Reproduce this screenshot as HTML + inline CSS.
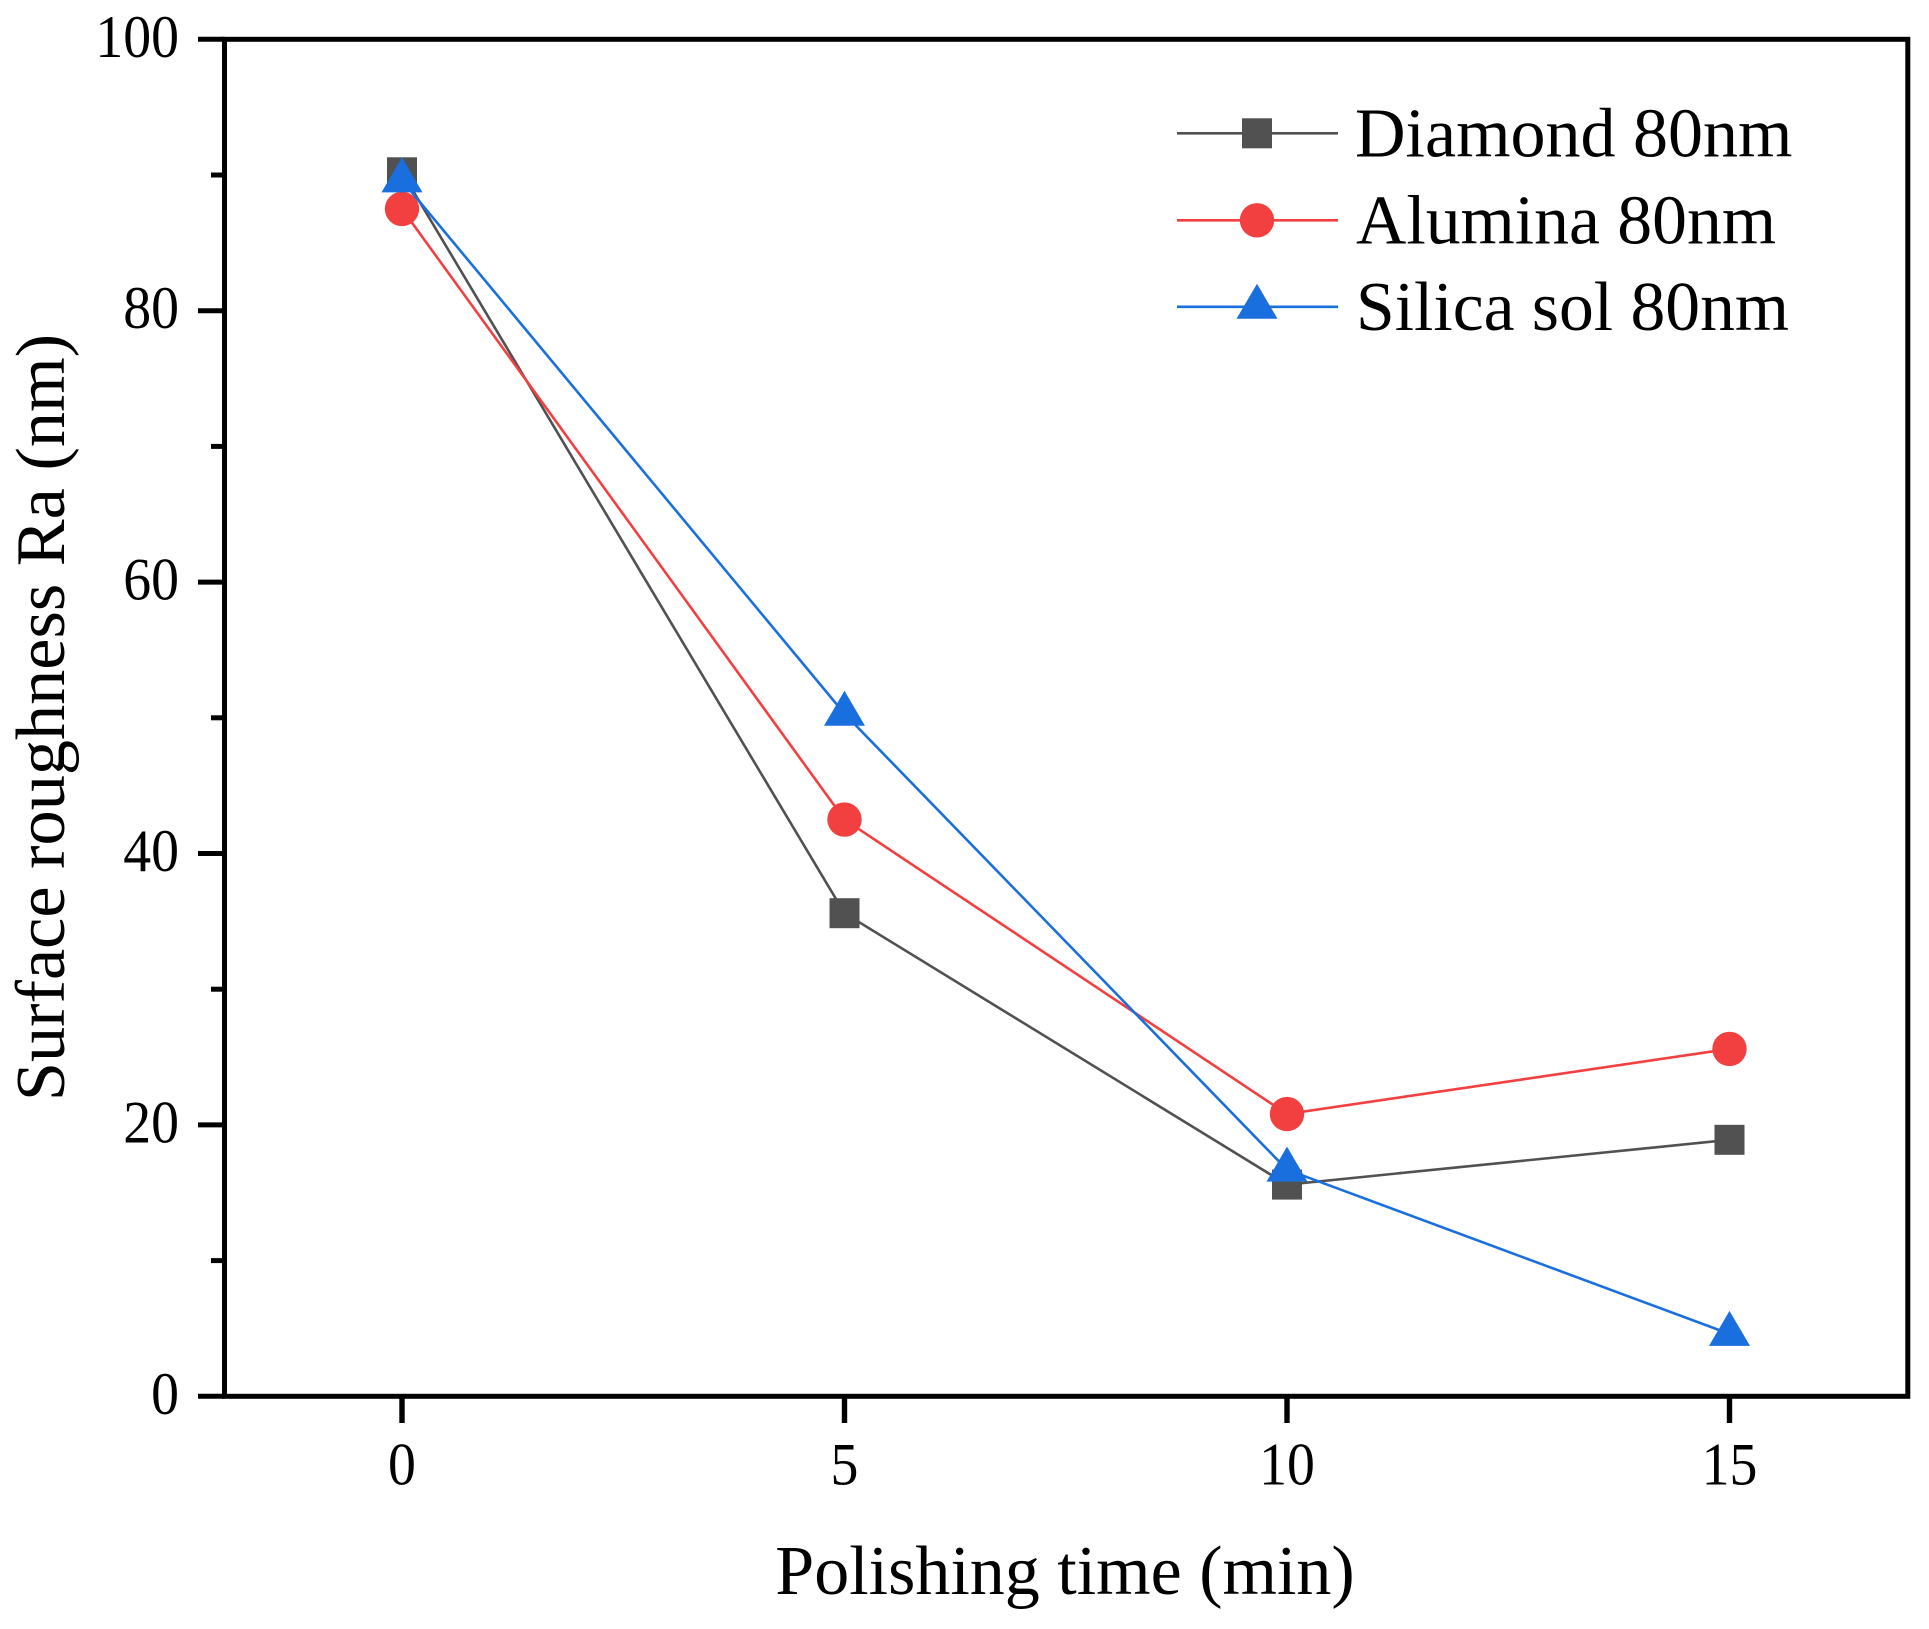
<!DOCTYPE html>
<html lang="en">
<head>
<meta charset="utf-8">
<title>Surface roughness vs polishing time</title>
<style>
html,body{margin:0;padding:0;background:#fff;}
svg{display:block;}
text{font-family:"Liberation Serif","Times New Roman",serif;fill:#000;}
</style>
</head>
<body>
<svg id="chart" xmlns="http://www.w3.org/2000/svg" width="1929" height="1629" viewBox="0 0 1929 1629">
  <rect x="0" y="0" width="1929" height="1629" fill="#ffffff"/>
  <g id="series-layer"></g>
  <g id="axis-layer"></g>
  <text x="1065" y="1594" font-size="70" text-anchor="middle">Polishing time (min)</text>
  <text transform="translate(64 717.5) rotate(-90)" font-size="70.3" text-anchor="middle">Surface roughness Ra (nm)</text>
  <g id="legend">
    <text x="1355" y="156.5" font-size="70">Diamond 80nm</text>
    <text x="1356" y="243.5" font-size="69.7">Alumina 80nm</text>
    <text x="1356" y="330" font-size="69.6">Silica sol 80nm</text>
  </g>
</svg>
<script>
const times = [0, 5, 10, 15];
const diamondValues = [90.2, 35.6, 15.6, 18.9];
const aluminaValues = [87.5, 42.5, 20.8, 25.6];
const silicaValues = [89.6, 50.3, 16.7, 4.6];
const xTickValues = [0, 5, 10, 15];
const yMajorTicks = [0, 20, 40, 60, 80, 100];
const yMinorTicks = [10, 30, 50, 70, 90];

const NS = 'http://www.w3.org/2000/svg';
const yMin = 0, yMax = 100;
const plotLeft = 224.5, plotRight = 1907.8, plotTop = 39.3, plotBottom = 1396.3;
const digitSqueeze = 0.93;
function xScale(v) { return 402 + (v - 0) * 88.5; }
function yScale(v) { return plotBottom - (v - yMin) * (plotBottom - plotTop) / (yMax - yMin); }

function make(tag, parent, props) {
  const el = document.createElementNS(NS, tag);
  for (const k in props) el.setAttribute(k, props[k]);
  parent.appendChild(el);
  return el;
}

function drawSquare(parent, cx, cy, color) {
  return make('rect', parent, { x: cx - 15, y: cy - 15, width: 30, height: 30, fill: color });
}
function drawCircle(parent, cx, cy, color) {
  return make('circle', parent, { cx: cx, cy: cy, r: 17.2, fill: color });
}
function drawTriangle(parent, cx, cy, color) {
  const pts = [[cx, cy - 23], [cx + 20.5, cy + 12], [cx - 20.5, cy + 12]].map(p => p.join(',')).join(' ');
  return make('polygon', parent, { points: pts, fill: color });
}

const axisLayer = document.getElementById('axis-layer');
const seriesLayer = document.getElementById('series-layer');
const legendGroup = document.getElementById('legend');

/* frame */
const frame = make('rect', axisLayer, { x: plotLeft, y: plotTop, width: plotRight - plotLeft, height: plotBottom - plotTop, fill: 'none', stroke: '#000', 'stroke-width': 5 });



/* y ticks */
yMajorTicks.forEach(function (v) {
  const t = make('line', axisLayer, { x1: 198, x2: plotLeft, y1: yScale(v), y2: yScale(v), stroke: '#000', 'stroke-width': 5 });
  
  
  const l = make('text', axisLayer, { transform: 'translate(179 ' + (yScale(v) + 17.5) + ') scale(' + digitSqueeze + ' 1)', 'font-size': 60, 'text-anchor': 'end' });
  l.textContent = String(v);
  
  
});
yMinorTicks.forEach(function (v) {
  const t = make('line', axisLayer, { x1: 211, x2: plotLeft, y1: yScale(v), y2: yScale(v), stroke: '#000', 'stroke-width': 5 });
  
  
});

/* x ticks */
xTickValues.forEach(function (v) {
  const t = make('line', axisLayer, { x1: xScale(v), x2: xScale(v), y1: plotBottom, y2: 1423, stroke: '#000', 'stroke-width': 5.4 });
  
  
  const l = make('text', axisLayer, { transform: 'translate(' + xScale(v) + ' 1484.5) scale(' + digitSqueeze + ' 1)', 'font-size': 60, 'text-anchor': 'middle' });
  l.textContent = String(v);
  
  
});

/* series */
function drawSeries(values, color, marker, name) {
  const g = make('g', seriesLayer, {});
  
  
  const pts = values.map(function (v, i) { return xScale(times[i]) + ',' + yScale(v); }).join(' ');
  const line = make('polyline', g, { points: pts, fill: 'none', stroke: color, 'stroke-width': 2.6 });
  
  
  values.forEach(function (v, i) {
    const m = marker(g, xScale(times[i]), yScale(v), color);
    
    
  });
}
drawSeries(diamondValues, '#515151', drawSquare, 'series-diamond');
drawSeries(aluminaValues, '#F24040', drawCircle, 'series-alumina');
drawSeries(silicaValues, '#1A6FDF', drawTriangle, 'series-silica');

/* legend keys */
function drawKey(y, color, marker, name) {
  const g = make('g', legendGroup, {});
  
  
  make('line', g, { x1: 1177, x2: 1338, y1: y, y2: y, stroke: color, 'stroke-width': 2.6 });
  marker(g, 1257, y, color);
}
drawKey(133.3, '#515151', drawSquare, 'legend-key-diamond');
drawKey(220.3, '#F24040', drawCircle, 'legend-key-alumina');
drawKey(306.8, '#1A6FDF', drawTriangle, 'legend-key-silica');
</script>
</body>
</html>
